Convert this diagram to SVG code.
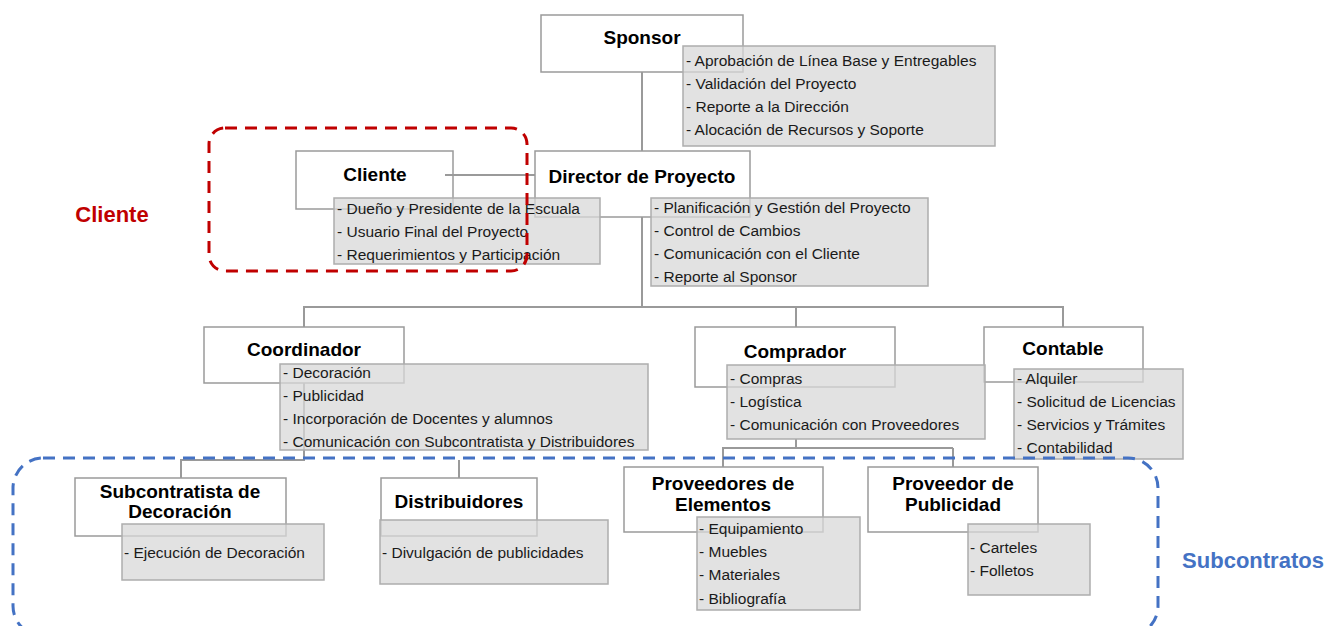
<svg xmlns="http://www.w3.org/2000/svg" width="1340" height="626" viewBox="0 0 1340 626">
<style>
.box{fill:#fff;stroke:#9a9a9a;stroke-width:1.5}
.note{fill:#d8d8d8;fill-opacity:0.75;stroke:#adadad;stroke-width:1.5}
.title{font-family:"Liberation Sans",Arial,sans-serif;font-weight:bold;font-size:19px;fill:#000;text-anchor:middle}
.item{font-family:"Liberation Sans",Arial,sans-serif;font-size:15.5px;fill:#1a1a1a}
.conn{fill:none;stroke:#9a9a9a;stroke-width:2}
.frame-red{fill:none;stroke:#c00000;stroke-width:3;stroke-dasharray:12 8}
.frame-blue{fill:none;stroke:#4472c4;stroke-width:3;stroke-dasharray:12 8}
.lab{font-family:"Liberation Sans",Arial,sans-serif;font-weight:bold;font-size:22px}
</style>
<rect width="1340" height="626" fill="#fff"/>

<!-- white boxes -->
<g id="sponsor-box"><rect class="box" x="541" y="15" width="202" height="57"/><text class="title" x="642" y="44">Sponsor</text></g>
<g id="cliente-box"><rect class="box" x="296" y="151" width="157" height="58"/><text class="title" x="375" y="181">Cliente</text></g>
<g id="director-box"><rect class="box" x="535" y="151" width="215" height="66"/><text class="title" x="642" y="183">Director de Proyecto</text></g>
<g id="coordinador-box"><rect class="box" x="204" y="327" width="200" height="56"/><text class="title" x="304" y="356">Coordinador</text></g>
<g id="comprador-box"><rect class="box" x="695" y="327" width="200" height="60"/><text class="title" x="795" y="358">Comprador</text></g>
<g id="contable-box"><rect class="box" x="984" y="327" width="159" height="55"/><text class="title" x="1063" y="355">Contable</text></g>
<g id="subcontratista-box"><rect class="box" x="75" y="478" width="211" height="58"/><text class="title" x="180" y="498">Subcontratista de</text><text class="title" x="180" y="518">Decoración</text></g>
<g id="distribuidores-box"><rect class="box" x="381" y="478" width="156" height="58"/><text class="title" x="459" y="508">Distribuidores</text></g>
<g id="proveedores-box"><rect class="box" x="624" y="467" width="199" height="65"/><text class="title" x="723" y="490">Proveedores de</text><text class="title" x="723" y="511">Elementos</text></g>
<g id="publicidad-box"><rect class="box" x="868" y="467" width="170" height="65"/><text class="title" x="953" y="490">Proveedor de</text><text class="title" x="953" y="511">Publicidad</text></g>

<!-- connectors -->
<g id="connectors">
<path class="conn" d="M642 72V151"/>
<path class="conn" d="M445 175H535"/>
<path class="conn" d="M642 217V307"/>
<path class="conn" d="M304 327V307H1063V327"/>
<path class="conn" d="M796 307V327"/>
<path class="conn" d="M304 383V460H181V478"/>
<path class="conn" d="M459 460V478"/>
<path class="conn" d="M796 439V448H723V467"/>
<path class="conn" d="M953 448H796M953 448V467"/>
</g>

<!-- notes -->
<g id="sponsor-notes"><rect class="note" x="683" y="46" width="312" height="100"/>
<text class="item" x="686" y="66">- Aprobación de Línea Base y Entregables</text>
<text class="item" x="686" y="89">- Validación del Proyecto</text>
<text class="item" x="686" y="112">- Reporte a la Dirección</text>
<text class="item" x="686" y="135">- Alocación de Recursos y Soporte</text></g>
<g id="cliente-notes"><rect class="note" x="334" y="198" width="266" height="66"/>
<text class="item" x="337" y="214">- Dueño y Presidente de la Escuala</text>
<text class="item" x="337" y="237">- Usuario Final del Proyecto</text>
<text class="item" x="337" y="260">- Requerimientos y Participación</text></g>
<g id="director-notes"><rect class="note" x="651" y="198" width="277" height="88"/>
<text class="item" x="654" y="213">- Planificación y Gestión del Proyecto</text>
<text class="item" x="654" y="236">- Control de Cambios</text>
<text class="item" x="654" y="259">- Comunicación con el Cliente</text>
<text class="item" x="654" y="282">- Reporte al Sponsor</text></g>
<g id="coordinador-notes"><rect class="note" x="280" y="364" width="368" height="86"/>
<text class="item" x="283" y="378">- Decoración</text>
<text class="item" x="283" y="401">- Publicidad</text>
<text class="item" x="283" y="424">- Incorporación de Docentes y alumnos</text>
<text class="item" x="283" y="447">- Comunicación con Subcontratista y Distribuidores</text></g>
<g id="comprador-notes"><rect class="note" x="727" y="365" width="258" height="74"/>
<text class="item" x="730" y="384">- Compras</text>
<text class="item" x="730" y="407">- Logística</text>
<text class="item" x="730" y="430">- Comunicación con Proveedores</text></g>
<g id="contable-notes"><rect class="note" x="1014" y="369" width="169" height="90"/>
<text class="item" x="1017" y="384">- Alquiler</text>
<text class="item" x="1017" y="407">- Solicitud de Licencias</text>
<text class="item" x="1017" y="430">- Servicios y Trámites</text>
<text class="item" x="1017" y="453">- Contabilidad</text></g>
<g id="subcontratista-notes"><rect class="note" x="122" y="524" width="202" height="56"/>
<text class="item" x="124" y="558">- Ejecución de Decoración</text></g>
<g id="distribuidores-notes"><rect class="note" x="380" y="520" width="228" height="64"/>
<text class="item" x="382" y="558">- Divulgación de publicidades</text></g>
<g id="proveedores-notes"><rect class="note" x="697" y="517" width="163" height="93"/>
<text class="item" x="699" y="534">- Equipamiento</text>
<text class="item" x="699" y="557">- Muebles</text>
<text class="item" x="699" y="580">- Materiales</text>
<text class="item" x="699" y="604">- Bibliografía</text></g>
<g id="publicidad-notes"><rect class="note" x="968" y="524" width="122" height="71"/>
<text class="item" x="970" y="553">- Carteles</text>
<text class="item" x="970" y="576">- Folletos</text></g>

<!-- group frames -->
<g id="cliente-group"><rect class="frame-red" x="209" y="128" width="318" height="143" rx="16"/>
<text class="lab" x="112" y="222" fill="#c00000" text-anchor="middle">Cliente</text></g>
<g id="subcontratos-group"><rect class="frame-blue" x="13" y="458" width="1145" height="178" rx="30"/>
<text class="lab" x="1253" y="568" fill="#4472c4" text-anchor="middle">Subcontratos</text></g>
</svg>
